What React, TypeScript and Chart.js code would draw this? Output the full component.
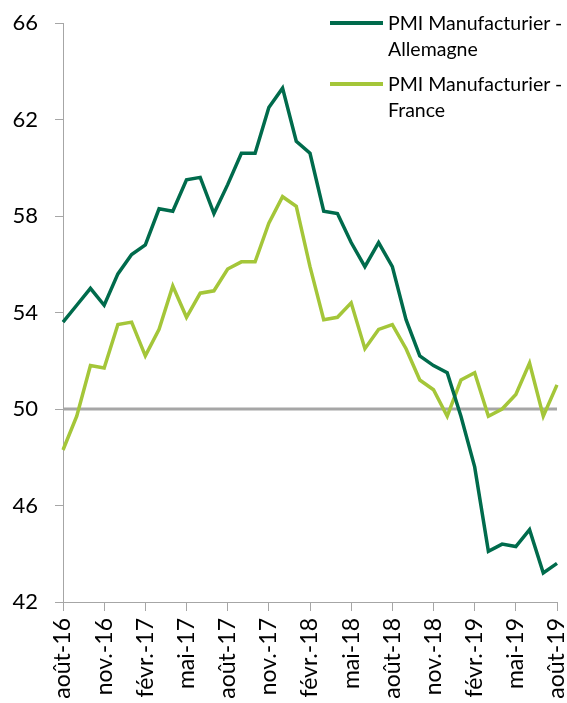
import React, { useEffect, useRef } from "react";
import { Chart, registerables } from "chart.js";

Chart.register(...registerables);

const months: string[] = [
  "août-16", "sept.-16", "oct.-16", "nov.-16", "déc.-16", "janv.-17", "févr.-17", "mars-17", "avr.-17",
  "mai-17", "juin-17", "juil.-17", "août-17", "sept.-17", "oct.-17", "nov.-17", "déc.-17", "janv.-18",
  "févr.-18", "mars-18", "avr.-18", "mai-18", "juin-18", "juil.-18", "août-18", "sept.-18", "oct.-18",
  "nov.-18", "déc.-18", "janv.-19", "févr.-19", "mars-19", "avr.-19", "mai-19", "juin-19", "juil.-19", "août-19",
];

const germany: number[] = [
  53.6, 54.3, 55.0, 54.3, 55.6, 56.4, 56.8, 58.3, 58.2, 59.5, 59.6, 58.1, 59.3, 60.6, 60.6, 62.5, 63.3, 61.1,
  60.6, 58.2, 58.1, 56.9, 55.9, 56.9, 55.9, 53.7, 52.2, 51.8, 51.5, 49.7, 47.6, 44.1, 44.4, 44.3, 45.0, 43.2, 43.6,
];

const france: number[] = [
  48.3, 49.7, 51.8, 51.7, 53.5, 53.6, 52.2, 53.3, 55.1, 53.8, 54.8, 54.9, 55.8, 56.1, 56.1, 57.7, 58.8, 58.4,
  55.9, 53.7, 53.8, 54.4, 52.5, 53.3, 53.5, 52.5, 51.2, 50.8, 49.7, 51.2, 51.5, 49.7, 50.0, 50.6, 51.9, 49.7, 51.0,
];

const seriesLabels: string[] = ["PMI Manufacturier - Allemagne", "PMI Manufacturier - France"];
const legendLines: string[][] = [["PMI Manufacturier -", "Allemagne"], ["PMI Manufacturier -", "France"]];
const referenceLevel = 50;

const DARK = "#006B4C";
const LIGHT = "#A4C639";
const GRAY = "#A6A6A6";
const FONT = "Lato, 'Open Sans', sans-serif";

export default function App() {
  const ref = useRef<HTMLCanvasElement | null>(null);

  useEffect(() => {
    document.body.style.margin = "0";
    const canvas = ref.current;
    if (!canvas) return;

    const refLine = {
      id: "refLine",
      beforeDatasetsDraw(chart: any) {
        const { ctx, chartArea, scales } = chart;
        const y = scales.y.getPixelForValue(referenceLevel);
        ctx.save();
        ctx.strokeStyle = GRAY;
        ctx.lineWidth = 3;
        ctx.beginPath();
        ctx.moveTo(chartArea.left, y);
        ctx.lineTo(chartArea.right, y);
        ctx.stroke();
        ctx.restore();
      },
    };

    const chart = new Chart(canvas, {
      type: "line",
      data: {
        labels: months,
        datasets: [
          { label: seriesLabels[0], data: germany, borderColor: DARK, backgroundColor: DARK, borderWidth: 3.5, pointRadius: 0, tension: 0 },
          { label: seriesLabels[1], data: france, borderColor: LIGHT, backgroundColor: LIGHT, borderWidth: 3.5, pointRadius: 0, tension: 0 },
        ],
      },
      options: {
        responsive: false,
        animation: false,
        layout: { padding: { top: 23, right: 10, left: 0, bottom: 0 } },
        plugins: { legend: { display: false }, tooltip: { enabled: false } },
        scales: {
          x: {
            type: "category",
            offset: false,
            border: { display: true, color: GRAY, width: 1 },
            grid: { display: true, drawOnChartArea: false, drawTicks: true, tickLength: 9, color: GRAY },
            ticks: {
              autoSkip: false,
              minRotation: 90,
              maxRotation: 90,
              padding: 7,
              color: "#000",
              font: { family: FONT, size: 23 },
              callback: (_v: any, i: number) => (i % 3 === 0 ? months[i] : null),
            },
            afterFit: (s: any) => { s.height = 101; s.paddingLeft = 0; s.paddingRight = 0; },
          },
          y: {
            min: 42,
            max: 66,
            border: { display: true, color: GRAY, width: 1 },
            grid: { display: true, drawOnChartArea: false, drawTicks: true, tickLength: 8, color: GRAY },
            ticks: { stepSize: 4, padding: 17, color: "#000", font: { family: FONT, size: 22 } },
            afterFit: (s: any) => { s.width = 63; s.paddingTop = 0; s.paddingBottom = 0; },
          },
        },
      },
      plugins: [refLine],
    });
    return () => chart.destroy();
  }, []);

  const colors = [DARK, LIGHT];
  const tops = [10, 71];

  return (
    <div style={{ position: "relative", width: 567, height: 703, background: "#fff", overflow: "hidden" }}>
      <canvas ref={ref} width={567} height={703} style={{ display: "block" }} />
      {legendLines.map((lines, k) => (
        <div key={k} style={{ position: "absolute", left: 330, top: tops[k], fontFamily: FONT, fontSize: 19.5, lineHeight: "26px", color: "#000", display: "flex", whiteSpace: "nowrap" }}>
          <div style={{ width: 53, height: 4, background: colors[k], marginTop: 11, marginRight: 5, flex: "none" }} />
          <div>{lines.map((l, j) => <div key={j}>{l}</div>)}</div>
        </div>
      ))}
    </div>
  );
}
